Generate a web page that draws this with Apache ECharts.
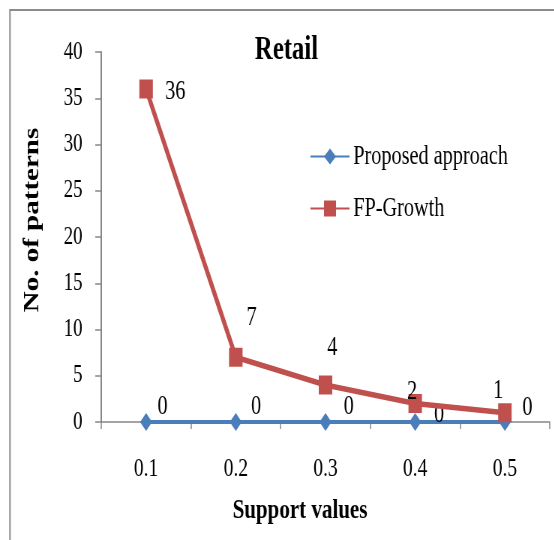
<!DOCTYPE html>
<html>
<head>
<meta charset="utf-8">
<script src="https://cdn.jsdelivr.net/npm/echarts@6/dist/echarts.min.js"></script>
<style>
  html, body { margin: 0; padding: 0; background: #fff; overflow: hidden; }
  /* chart is laid out wide and squeezed horizontally to get the narrow glyph look */
  #chart { width: 739px; height: 540px; transform: scaleX(0.75); transform-origin: 0 0; }
</style>
</head>
<body>
<div id="chart"></div>
<script>
// Support thresholds on the x axis
const supportValues = ['0.1', '0.2', '0.3', '0.4', '0.5'];
// Number of patterns found by each method
const proposedApproach = [0, 0, 0, 0, 0];
const fpGrowth = [36, 7, 4, 2, 1];
// Value axis range
const yMin = 0;
const yMax = 40;
const yStep = 5;

// Label placement (pixel offsets from each marker)
const proposedLabelOffsets = [[22, -15], [27, -15], [31, -15], [32, -7], [30, -14]];
const fpLabelOffsets = [[39, 3], [21, -39], [9, -37], [-4, -12], [-9, -22]];

const serif = "'Liberation Serif', 'Times New Roman', serif";
const axisGray = '#868686';
const blue = '#4a7ebb';
const red = '#c0504d';

const chart = echarts.init(document.getElementById('chart'), null, { renderer: 'canvas' });

chart.setOption({
  animation: false,
  backgroundColor: '#fff',
  grid: { left: 135, right: 6, top: 52, bottom: 118, containLabel: false },
  legend: {
    orient: 'vertical',
    left: 413,
    top: 143,
    padding: 0,
    itemWidth: 52,
    itemHeight: 20,
    itemGap: 25,
    textStyle: { fontFamily: serif, fontSize: 27, color: '#000' },
    data: ['Proposed approach', 'FP-Growth']
  },
  xAxis: {
    type: 'category',
    data: supportValues,
    boundaryGap: true,
    axisLine: { lineStyle: { color: axisGray, width: 1.5 } },
    axisTick: { show: true, length: 7, lineStyle: { color: axisGray, width: 1.5 } },
    axisLabel: { margin: 34, fontFamily: serif, fontSize: 26, color: '#000' },
    splitLine: { show: false }
  },
  yAxis: {
    type: 'value',
    min: yMin,
    max: yMax,
    interval: yStep,
    axisLine: { show: true, lineStyle: { color: axisGray, width: 2 } },
    axisTick: { show: true, length: 8, lineStyle: { color: axisGray, width: 1.5 } },
    axisLabel: { margin: 25, fontFamily: serif, fontSize: 25, color: '#000' },
    splitLine: { show: false }
  },
  graphic: [
    {
      type: 'rect',
      shape: { x: 13.3, y: 10, width: 2000, height: 2000 },
      style: { fill: 'none', stroke: '#8c8c8c', lineWidth: 2 },
      silent: true, z: -10
    },
    {
      type: 'text',
      x: 382, y: 50,
      style: { text: 'Retail', font: "bold 33px 'Liberation Serif', 'Times New Roman', serif", fill: '#000', textAlign: 'center', textVerticalAlign: 'middle' }
    },
    {
      type: 'text',
      x: 44, y: 220, rotation: Math.PI / 2,
      style: { text: 'No. of patterns', font: "bold 29px 'Liberation Serif', 'Times New Roman', serif", fill: '#000', textAlign: 'center', textVerticalAlign: 'middle' }
    },
    {
      type: 'text',
      x: 400, y: 511,
      style: { text: 'Support values', font: "bold 28px 'Liberation Serif', 'Times New Roman', serif", fill: '#000', textAlign: 'center', textVerticalAlign: 'middle' }
    }
  ],
  series: [
    {
      name: 'Proposed approach',
      type: 'line',
      data: proposedApproach.map((v, i) => ({ value: v, label: { offset: proposedLabelOffsets[i] } })),
      symbol: 'diamond',
      symbolSize: [16, 18],
      itemStyle: { color: blue },
      lineStyle: { color: blue, width: 4 },
      label: { show: true, position: 'inside', fontFamily: serif, fontSize: 27, color: '#000' },
      z: 2
    },
    {
      name: 'FP-Growth',
      type: 'line',
      data: fpGrowth.map((v, i) => ({ value: v, label: { offset: fpLabelOffsets[i] } })),
      symbol: 'rect',
      symbolSize: [18, 19],
      itemStyle: { color: red },
      lineStyle: { color: red, width: 5.5 },
      label: { show: true, position: 'inside', fontFamily: serif, fontSize: 27, color: '#000' },
      z: 3
    }
  ]
});
</script>
</body>
</html>
